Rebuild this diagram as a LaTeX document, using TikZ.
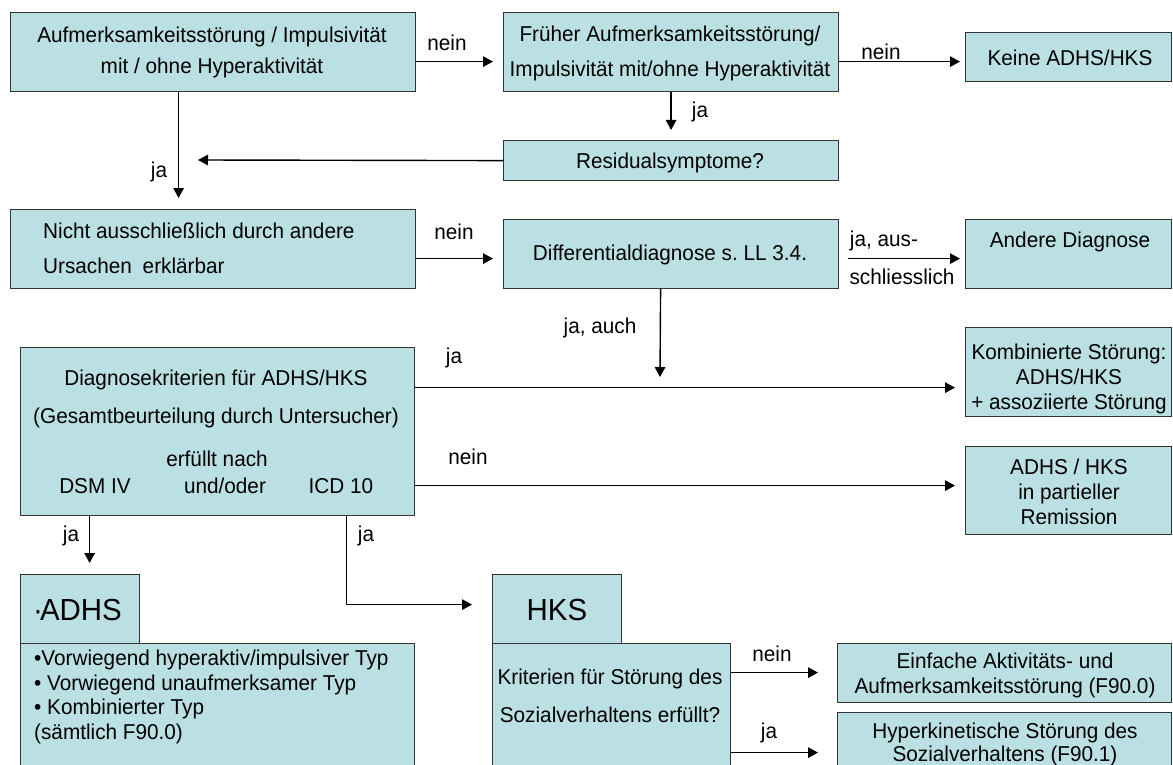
\documentclass[tikz,border=0pt]{standalone}
\usepackage{fontspec}
\setmainfont{Liberation Sans}[FakeStretch=0.965]
\usetikzlibrary{arrows.meta,calc}
\definecolor{boxfill}{HTML}{BBE0E3}
\newcommand{\nf}{\fontsize{21.5}{25}\selectfont}
\newcommand{\bigf}{\fontsize{30.5}{36}\selectfont}
\frenchspacing
\begin{document}
\begin{tikzpicture}[x=1pt,y=-1pt,
  box/.style={draw=black!80, line width=1.2pt, fill=boxfill, inner sep=0pt, anchor=north west},
  txt/.style={inner sep=0pt, font=\nf, align=center},
  arr/.style={line width=1.4pt, -{Triangle[length=10pt,width=10.5pt]}},
]
\clip (0,0) rectangle (1173,765);
\fill[white] (0,0) rectangle (1173,765);

% boxes
\node[box, minimum width=405pt, minimum height=79pt] (b1) at (10,12) {};
\node[box, minimum width=335pt, minimum height=79pt] (b2) at (503,12) {};
\node[box, minimum width=206pt, minimum height=49pt] (keine) at (965,32) {};
\node[box, minimum width=335pt, minimum height=40pt] (resid) at (503,140) {};
\node[box, minimum width=405pt, minimum height=79pt] (b3) at (10,209) {};
\node[box, minimum width=335pt, minimum height=69pt] (diff) at (503,219) {};
\node[box, minimum width=206pt, minimum height=69pt] (andere) at (965,219) {};
\node[box, minimum width=394pt, minimum height=168pt] (b4) at (20,347) {};
\node[box, minimum width=206pt, minimum height=89pt] (komb) at (965,327) {};
\node[box, minimum width=206pt, minimum height=88pt] (partial) at (965,446) {};
\node[box, minimum width=119pt, minimum height=69pt] (adhsT) at (20,574) {};
\node[box, minimum width=394pt, minimum height=130pt] (adhsB) at (20,643) {};
\node[box, minimum width=129pt, minimum height=69pt] (hksT) at (492,574) {};
\node[box, minimum width=238pt, minimum height=130pt] (hksB) at (492,643) {};
\node[box, minimum width=334pt, minimum height=59pt] (einf) at (837,643) {};
\node[box, minimum width=334pt, minimum height=60pt] (hyper) at (837,712) {};

% texts
\node[txt] (t1) at (212,52) {Aufmerksamkeitsstörung / Impulsivität\\[6pt]mit / ohne Hyperaktivität};
\node[txt] (t2) at (670,53) {Früher Aufmerksamkeitsstörung/\\[10pt]Impulsivität mit/ohne Hyperaktivität};
\node[txt] (t3) at (1070,58) {Keine ADHS/HKS};
\node[txt] (t4) at (670,163) {Residualsymptome?};
\node[txt, anchor=west, align=left] (t5) at (43,248) {Nicht ausschließlich durch andere\\[10pt]Ursachen\hspace{0.5em}erklärbar};
\node[txt] (t6) at (670,255) {Differentialdiagnose s. LL 3.4.};
\node[txt] (t7) at (1070,242) {Andere Diagnose};
\node[txt] (t8a) at (216,399) {Diagnosekriterien für ADHS/HKS\\[13pt](Gesamtbeurteilung durch Untersucher)};
\node[txt] (t8b) at (217,459) {erfüllt nach};
\node[txt] (t8c) at (95,486) {DSM IV};
\node[txt] (t8d) at (225,486) {und/oder};
\node[txt] (t8e) at (341,486) {ICD 10};
\node[txt] (t9) at (1069,379) {Kombinierte Störung:\\ADHS/HKS\\+ assoziierte Störung};
\node[txt] (t10) at (1069,492) {ADHS / HKS\\in partieller\\Remission};
\node[txt, font=\bigf, anchor=west] (t11) at (33,610) {·\kern-3ptADHS};
\node[txt, anchor=west, align=left] (t12) at (34,697) {•Vorwiegend hyperaktiv/impulsiver Typ\\[-0.5pt]• Vorwiegend unaufmerksamer Typ\\[-0.5pt]• Kombinierter Typ\\[-0.5pt](sämtlich F90.0)};
\node[txt, font=\bigf] (t13) at (557,610) {HKS};
\node[txt] (t14) at (610,696) {Kriterien für Störung des\\[13pt]Sozialverhaltens erfüllt?};
\node[txt] (t15) at (1005,675) {Einfache Aktivitäts- und\\Aufmerksamkeitsstörung (F90.0)};
\node[txt] (t16) at (1005,744) {Hyperkinetische Störung des\\[-2pt]Sozialverhaltens (F90.1)};

% connectors
\coordinate (j1) at (198,160);
\coordinate (j2) at (660,377);
\draw[arr, shorten >=10pt] ($(b1.east)+(0,9.5)$) -- ($(b2.west)+(0,9.5)$);
\draw[arr, shorten >=5pt] ($(b2.east)+(0,9.5)$) -- ($(keine.west)+(0,4.5)$);
\draw[arr, shorten >=10pt] (b2.south) -- (resid.north);
\draw[arr] (resid.west) -- (j1);
\draw[arr, shorten >=11pt] ($(b1.south)+(-34.5,0)$) -- ($(b3.north)+(-34.5,0)$);
\draw[arr, shorten >=10pt] ($(b3.east)+(0,9.5)$) -- ($(diff.west)+(0,4.5)$);
\draw[arr, shorten <=9pt, shorten >=5pt] ($(diff.east)+(0,4.5)$) -- ($(andere.west)+(0,4.5)$);
\draw[arr] ($(diff.south)+(-10.5,0)$) -- (j2);
\draw[arr, shorten >=10pt] ($(b4.east)+(0,-44)$) -- ($(komb.west)+(0,15.5)$);
\draw[arr, shorten >=10pt] ($(b4.east)+(0,54)$) -- ($(partial.west)+(0,-5)$);
\draw[arr, shorten >=11pt] ($(b4.south)+(-128,0)$) -- ($(adhsT.north)+(9.5,0)$);
\draw[arr, shorten >=20pt] ($(b4.south)+(129,0)$) |- ($(hksT.west)+(0,-4.5)$);
\draw[arr, shorten >=19pt] ($(hksB.east)+(0,-36)$) -- ($(einf.west)+(0,-0.5)$);
\draw[arr, shorten >=19pt] ($(hksB.east)+(0,44)$) -- ($(hyper.west)+(0,10)$);

% connector labels
\node[txt] (l1) at (447,43) {nein};
\node[txt] (l2) at (881,52) {nein};
\node[txt] (l3) at (700,112) {ja};
\node[txt] (l4) at (159,172) {ja};
\node[txt] (l5) at (454,232) {nein};
\node[txt] (l6) at (884,241) {ja, aus-};
\node[txt] (l7) at (902,277) {schliesslich};
\node[txt] (l8) at (600,328) {ja, auch};
\node[txt] (l9) at (454,358) {ja};
\node[txt] (l10) at (468,457) {nein};
\node[txt] (l11) at (71,536) {ja};
\node[txt] (l12) at (366,536) {ja};
\node[txt] (l13) at (772,654) {nein};
\node[txt] (l14) at (769,733) {ja};
\end{tikzpicture}
\end{document}
